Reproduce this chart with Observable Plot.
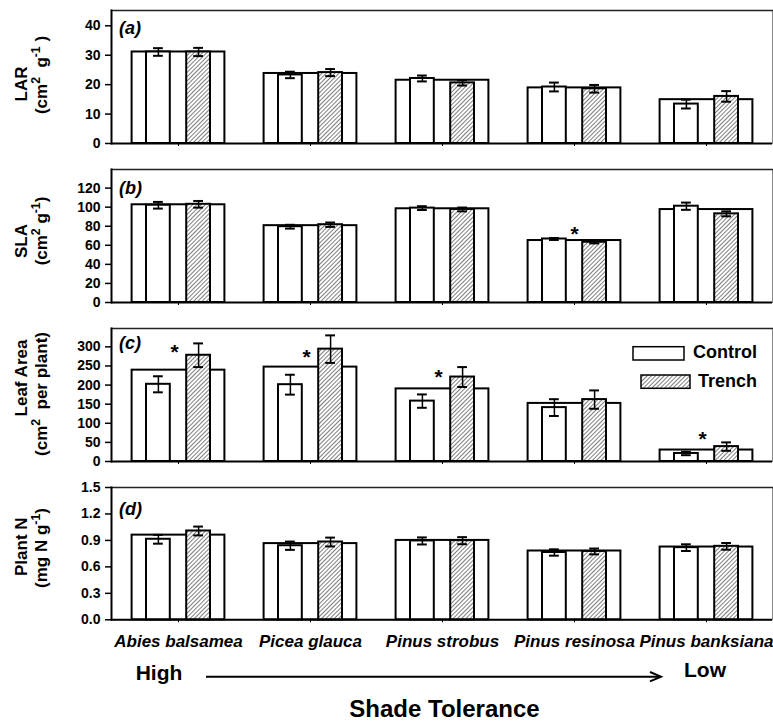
<!DOCTYPE html>
<html>
<head>
<meta charset="utf-8">
<script src="https://cdn.jsdelivr.net/npm/d3@7"></script>
<script src="https://cdn.jsdelivr.net/npm/@observablehq/plot@0.6"></script>
<style>
  html, body { margin: 0; padding: 0; background: white; overflow: hidden; }
  #chart svg { display: block; }
  text { font-family: "Liberation Sans", Arial, sans-serif; }
</style>
</head>
<body>
<svg width="0" height="0" style="position:absolute">
  <defs>
    <pattern id="hatch" patternUnits="userSpaceOnUse" width="3" height="3" patternTransform="rotate(45)">
      <rect width="3" height="3" fill="white"></rect>
      <line x1="0" y1="0" x2="0" y2="3" stroke="#000" stroke-width="1"></line>
    </pattern>
  </defs>
</svg>
<div id="chart"></div>
<script>
// ---------- data ----------
const species = ["Abies balsamea", "Picea glauca", "Pinus strobus", "Pinus resinosa", "Pinus banksiana"];

// (a) LAR
const larMean = [31.1, 23.8, 21.5, 18.9, 14.9];
const larControl = [31.1, 23.3, 22.1, 19.2, 13.4];
const larControlSE = [1.3, 1.1, 1.0, 1.5, 1.5];
const larTrench = [31.1, 24.1, 20.6, 18.6, 16.0];
const larTrenchSE = [1.4, 1.2, 0.9, 1.3, 1.8];
const larTicks = [0, 10, 20, 30, 40];

// (b) SLA
const slaMean = [102.5, 80.6, 98.3, 65.0, 97.5];
const slaControl = [102, 79.5, 99, 66.6, 101];
const slaControlSE = [3.5, 2.0, 2.0, 1.0, 3.8];
const slaTrench = [103, 81.6, 97.6, 63.2, 93];
const slaTrenchSE = [3.5, 2.3, 2.0, 1.2, 2.6];
const slaTicks = [0, 20, 40, 60, 80, 100, 120];
const slaStars = [{species: "Pinus resinosa", y: 79}];

// (c) Leaf area
const laMean = [239, 247, 190, 152, 30];
const laControl = [202, 201, 158, 141, 21];
const laControlSE = [21, 26, 17.5, 22, 4.5];
const laTrench = [278, 294, 221, 162, 39];
const laTrenchSE = [31, 36, 26, 24, 11];
const laTicks = [0, 50, 100, 150, 200, 250, 300];
const laStars = [
  {species: "Abies balsamea", y: 304},
  {species: "Picea glauca", y: 291},
  {species: "Pinus strobus", y: 239},
  {species: "Pinus banksiana", y: 76}
];

// (d) Plant N
const nMean = [0.96, 0.864, 0.90, 0.78, 0.825];
const nControl = [0.913, 0.84, 0.894, 0.763, 0.818];
const nControlSE = [0.05, 0.047, 0.04, 0.036, 0.038];
const nTrench = [1.007, 0.882, 0.897, 0.775, 0.833];
const nTrenchSE = [0.05, 0.05, 0.04, 0.033, 0.038];
const nTicks = [0, 0.3, 0.6, 0.9, 1.2, 1.5];

// ---------- layout ----------
const W = 773, ML = 111, MR = 1;
const bw = (W - ML - MR) / species.length;
const FONT = '"Liberation Sans", Arial, sans-serif';

function addText(sel, x, y, str, size, opts = {}) {
  return sel.append("text").attr("x", x).attr("y", y)
    .attr("text-anchor", opts.anchor || "start")
    .attr("font-size", size).attr("font-weight", "bold")
    .attr("font-style", opts.italic ? "italic" : "normal")
    .attr("font-family", FONT).attr("fill", "black").text(str);
}

function panel(cfg) {
  const rows = species.map((s, i) => ({
    species: s, mean: cfg.mean[i],
    control: cfg.control[i], cse: cfg.controlSE[i],
    trench: cfg.trench[i], tse: cfg.trenchSE[i]
  }));
  const wideIn = (bw - 93) / 2;
  const cOff = 46;            // control bar centre from band start
  const barHalf = 12, capHalf = 5;
  const marks = [
    Plot.frame({stroke: "#888", strokeWidth: 1}),
    Plot.frame({anchor: "top", stroke: "#222", strokeWidth: 1.5}),
    Plot.barY(rows, {x: "species", y: "mean", fill: "white", stroke: "black", strokeWidth: 2, insetLeft: wideIn, insetRight: wideIn}),
    Plot.barY(rows, {x: "species", y: "control", fill: "white", stroke: "black", strokeWidth: 2, insetLeft: cOff - barHalf, insetRight: bw - cOff - barHalf}),
    Plot.barY(rows, {x: "species", y: "trench", fill: "url(#hatch)", stroke: "black", strokeWidth: 2, insetLeft: bw - cOff - barHalf, insetRight: cOff - barHalf}),
    // error bars
    Plot.ruleX(rows, {x: "species", y1: d => d.control - d.cse, y2: d => d.control + d.cse, dx: cOff - bw / 2, stroke: "black", strokeWidth: 1.5}),
    Plot.tickY(rows, {x: "species", y: d => d.control + d.cse, insetLeft: cOff - capHalf, insetRight: bw - cOff - capHalf, stroke: "black", strokeWidth: 2}),
    Plot.tickY(rows, {x: "species", y: d => d.control - d.cse, insetLeft: cOff - capHalf, insetRight: bw - cOff - capHalf, stroke: "black", strokeWidth: 2}),
    Plot.ruleX(rows, {x: "species", y1: d => d.trench - d.tse, y2: d => d.trench + d.tse, dx: bw / 2 - cOff, stroke: "black", strokeWidth: 1.5}),
    Plot.tickY(rows, {x: "species", y: d => d.trench + d.tse, insetLeft: bw - cOff - capHalf, insetRight: cOff - capHalf, stroke: "black", strokeWidth: 2}),
    Plot.tickY(rows, {x: "species", y: d => d.trench - d.tse, insetLeft: bw - cOff - capHalf, insetRight: cOff - capHalf, stroke: "black", strokeWidth: 2}),
    // axes
    Plot.axisY({ticks: cfg.ticks, tickFormat: cfg.fmt, tickSize: 6, tickPadding: 5, fontSize: 14, fontWeight: "bold", label: null, strokeWidth: 1.5, fill: "black"}),
    Plot.axisX({tickSize: 3, tickPadding: 12, fontSize: 17, fontWeight: "bold", fontStyle: "italic", label: null, fill: "black",
      tickFormat: cfg.bottom ? (d => d) : (() => "")}),
    Plot.frame({anchor: "left", stroke: "black", strokeWidth: 2}),
    Plot.ruleY([0], {stroke: "black", strokeWidth: 2})
  ];
  if (cfg.stars) {
    marks.push(Plot.text(cfg.stars, {x: "species", y: "y", text: () => "*", fontSize: 21, fontWeight: "bold", dx: cfg.starDx || 0, dy: 7, fill: "black"}));
  }
  const svg = Plot.plot({
    width: W, height: cfg.height,
    marginLeft: ML, marginRight: MR, marginTop: 10, marginBottom: cfg.marginBottom,
    style: {fontFamily: FONT, color: "black", background: "white"},
    x: {type: "band", domain: species, padding: 0, axis: null},
    y: {domain: cfg.domain, axis: null},
    marks
  });
  const s = d3.select(svg);
  // panel letter
  addText(s, 119, 10 + cfg.letterY, cfg.letter, 18, {italic: true});
  // y labels (rotated)
  const lab = (x, y, parts, size) => {
    const t = s.append("text").attr("transform", `translate(${x},${y}) rotate(-90)`)
      .attr("text-anchor", "middle").attr("font-size", size).attr("font-weight", "bold")
      .attr("font-family", FONT).attr("fill", "black").style("white-space", "pre");
    let sup = false;
    parts.forEach(([str, isSup]) => {
      const ts = t.append("tspan").text(str);
      if (isSup && !sup) { ts.attr("dy", -7).attr("font-size", size * 0.72); sup = true; }
      else if (!isSup && sup) { ts.attr("dy", 7); sup = false; }
      else if (isSup) ts.attr("font-size", size * 0.72);
    });
  };
  lab(27, cfg.l1y, [[cfg.line1, 0]], 17);
  lab(47, cfg.l2y, cfg.line2, 17);
  return svg;
}

const root = document.getElementById("chart");

root.appendChild(panel({
  mean: larMean, control: larControl, controlSE: larControlSE, trench: larTrench, trenchSE: larTrenchSE,
  domain: [0, 45.2], ticks: larTicks, fmt: d3.format("d"), height: 159, marginBottom: 16,
  letter: "(a)", letterY: 24, line1: "LAR", l1y: 84,
  line2: [["(cm", 0], ["2", 1], ["  g", 0], ["-1", 1], [" )", 0]], l2y: 75
}));

root.appendChild(panel({
  mean: slaMean, control: slaControl, controlSE: slaControlSE, trench: slaTrench, trenchSE: slaTrenchSE,
  domain: [0, 139.5], ticks: slaTicks, fmt: d3.format("d"), height: 159, marginBottom: 16,
  stars: slaStars, starDx: 0,
  letter: "(b)", letterY: 25, line1: "SLA", l1y: 82,
  line2: [["(cm", 0], ["2", 1], [" g", 0], ["-1", 1], [")", 0]], l2y: 72
}));

const pc = panel({
  mean: laMean, control: laControl, controlSE: laControlSE, trench: laTrench, trenchSE: laTrenchSE,
  domain: [0, 348], ticks: laTicks, fmt: d3.format("d"), height: 159, marginBottom: 16,
  stars: laStars, starDx: -4,
  letter: "(c)", letterY: 21, line1: "Leaf Area", l1y: 60,
  line2: [["(cm", 0], ["2", 1], ["  per plant)", 0]], l2y: 76
});
// legend
{
  const s = d3.select(pc);
  s.append("rect").attr("x", 633).attr("y", 28.7).attr("width", 51).attr("height", 13.3)
    .attr("fill", "white").attr("stroke", "black").attr("stroke-width", 1.5);
  addText(s, 693, 40, "Control", 18);
  s.append("rect").attr("x", 641).attr("y", 57).attr("width", 49).attr("height", 13.3)
    .attr("fill", "url(#hatch)").attr("stroke", "black").attr("stroke-width", 1.5);
  addText(s, 698, 69.4, "Trench", 18);
}
root.appendChild(pc);

const pd = panel({
  mean: nMean, control: nControl, controlSE: nControlSE, trench: nTrench, trenchSE: nTrenchSE,
  domain: [0, 1.5], ticks: nTicks, fmt: d3.format(".1f"), height: 244, marginBottom: 101.7, bottom: true,
  letter: "(d)", letterY: 28, line1: "Plant N", l1y: 69.7,
  line2: [["(mg N g", 0], ["-1", 1], [")", 0]], l2y: 71
});
{
  const s = d3.select(pd);
  addText(s, 135.7, 203, "High", 21);
  addText(s, 684, 200, "Low", 21);
  s.append("line").attr("x1", 206).attr("x2", 660).attr("y1", 199.7).attr("y2", 199.7)
    .attr("stroke", "black").attr("stroke-width", 2);
  s.append("path").attr("d", "M650,195 L661,199.7 L650,204.4").attr("fill", "none")
    .attr("stroke", "black").attr("stroke-width", 2);
  addText(s, 444.5, 240, "Shade Tolerance", 24, {anchor: "middle"});
}
root.appendChild(pd);
</script>
</body>
</html>
